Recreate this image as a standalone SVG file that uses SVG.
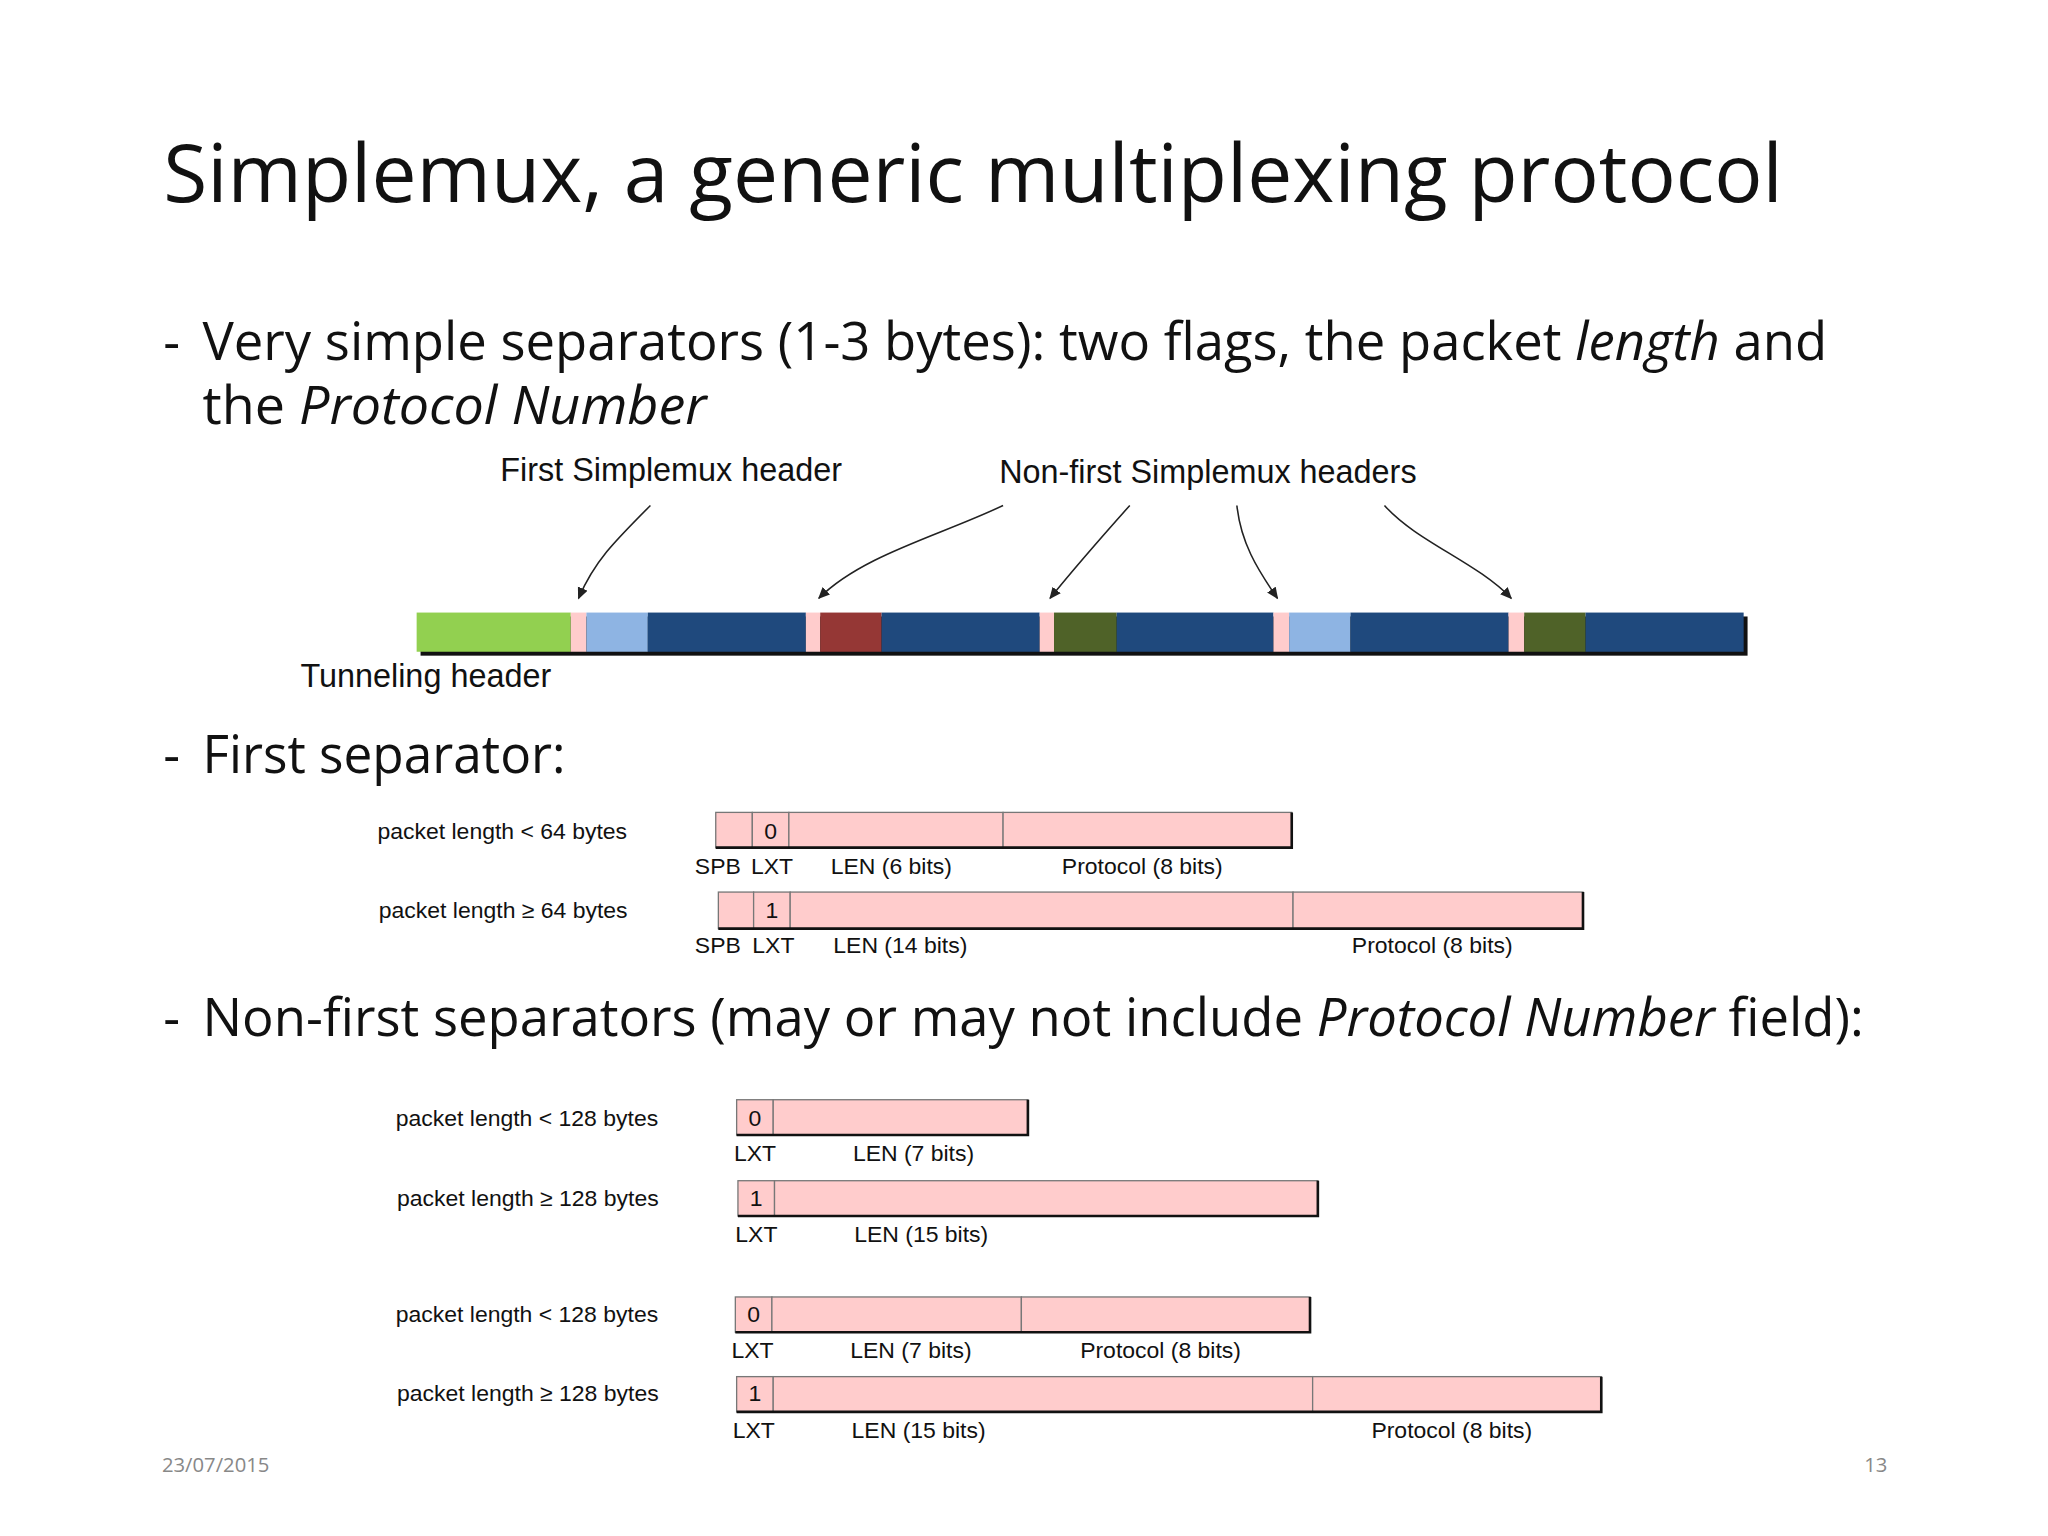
<svg xmlns="http://www.w3.org/2000/svg" width="2048" height="1536" viewBox="0 0 2048 1536">
<style>
.t{font-family:"Open Sans","Noto Sans",sans-serif;fill:#111}
.a{font-family:"Liberation Sans",Arial,sans-serif;fill:#111}
.l{font-size:24.8px}
.s{font-size:17.6px}
.c{fill:#ffcccc;stroke:#777;stroke-width:1}
.sh{stroke:#111;stroke-width:2;fill:none}
.con{fill:none;stroke:#222;stroke-width:1.2;marker-end:url(#ah)}
</style>
<defs>
<marker id="ah" markerWidth="10" markerHeight="10" refX="8" refY="4" orient="auto" markerUnits="userSpaceOnUse"><path d="M0,0 L9,4 L0,8 Z" fill="#222"/></marker>
</defs>
<rect width="2048" height="1536" fill="#fff"/>
<g transform="scale(1.3061)">
<g id="title"><text class="t" x="125" y="155" font-size="62" textLength="1240" lengthAdjust="spacingAndGlyphs">Simplemux, a generic multiplexing protocol</text></g>
<g id="bullets" font-size="40">
<text class="t" x="125" y="276" font-size="40">-</text>
<text class="t" x="155" y="276" font-size="40" textLength="1244" lengthAdjust="spacingAndGlyphs">Very simple separators (1-3 bytes): two flags, the packet <tspan font-style="italic">length</tspan> and</text>
<text class="t" x="155" y="325" font-size="40" textLength="386" lengthAdjust="spacingAndGlyphs">the <tspan font-style="italic">Protocol Number</tspan></text>
<text class="t" x="125" y="592" font-size="40">-</text>
<text class="t" x="155" y="592" font-size="40" textLength="278" lengthAdjust="spacingAndGlyphs">First separator:</text>
<text class="t" x="125" y="793" font-size="40">-</text>
<text class="t" x="155" y="793" font-size="40" textLength="1272" lengthAdjust="spacingAndGlyphs">Non-first separators (may or may not include <tspan font-style="italic">Protocol Number</tspan> field):</text>
</g>
<g id="labels">
<text class="a l" x="383" y="368">First Simplemux header</text>
<text class="a l" x="765" y="370">Non-first Simplemux headers</text>
<text class="a l" x="230" y="526">Tunneling header</text>
</g>
<g id="connectors">
<path class="con" d="M498,387 C470,415 455,430 443,458"/>
<path class="con" d="M768,387 C720,410 660,425 627,458"/>
<path class="con" d="M865,387 C840,415 825,432 804,458"/>
<path class="con" d="M947,387 C950,415 962,435 978,458"/>
<path class="con" d="M1060,387 C1085,415 1130,430 1157,458"/>
</g>
<g id="bar">
<rect x="322" y="472" width="1016" height="30" fill="#111"/>
<rect x="319" y="469" width="118" height="30" fill="#92d050"/>
<rect x="437" y="469" width="12" height="30" fill="#ffcccc"/>
<rect x="449" y="469" width="47" height="30" fill="#8eb4e3"/>
<rect x="496" y="469" width="121" height="30" fill="#1f497d"/>
<rect x="617" y="469" width="11" height="30" fill="#ffcccc"/>
<rect x="628" y="469" width="47" height="30" fill="#953735"/>
<rect x="675" y="469" width="121" height="30" fill="#1f497d"/>
<rect x="796" y="469" width="11" height="30" fill="#ffcccc"/>
<rect x="807" y="469" width="48" height="30" fill="#4f6228"/>
<rect x="855" y="469" width="120" height="30" fill="#1f497d"/>
<rect x="975" y="469" width="12" height="30" fill="#ffcccc"/>
<rect x="987" y="469" width="47" height="30" fill="#8eb4e3"/>
<rect x="1034" y="469" width="121" height="30" fill="#1f497d"/>
<rect x="1155" y="469" width="12" height="30" fill="#ffcccc"/>
<rect x="1167" y="469" width="47" height="30" fill="#4f6228"/>
<rect x="1214" y="469" width="121" height="30" fill="#1f497d"/>
</g>
<g id="row1">
<text class="a s" x="289" y="642">packet length &lt; 64 bytes</text>
<rect class="c" x="548" y="622" width="28" height="27"/><rect class="c" x="576" y="622" width="28" height="27"/><rect class="c" x="604" y="622" width="164" height="27"/><rect class="c" x="768" y="622" width="221" height="27"/>
<path class="sh" d="M989,622 V649 H548"/>
<text class="a s" x="590" y="642" text-anchor="middle">0</text>
<text class="a s" x="532" y="669">SPB</text><text class="a s" x="575" y="669">LXT</text><text class="a s" x="636" y="669">LEN (6 bits)</text><text class="a s" x="813" y="669">Protocol (8 bits)</text>
</g>
<g id="row2">
<text class="a s" x="290" y="703">packet length ≥ 64 bytes</text>
<rect class="c" x="550" y="683" width="27" height="28"/><rect class="c" x="577" y="683" width="28" height="28"/><rect class="c" x="605" y="683" width="385" height="28"/><rect class="c" x="990" y="683" width="222" height="28"/>
<path class="sh" d="M1212,683 V711 H550"/>
<text class="a s" x="591" y="703" text-anchor="middle">1</text>
<text class="a s" x="532" y="730">SPB</text><text class="a s" x="576" y="730">LXT</text><text class="a s" x="638" y="730">LEN (14 bits)</text><text class="a s" x="1035" y="730">Protocol (8 bits)</text>
</g>
<g id="row3">
<text class="a s" x="303" y="862">packet length &lt; 128 bytes</text>
<rect class="c" x="564" y="842" width="28" height="27"/><rect class="c" x="592" y="842" width="195" height="27"/>
<path class="sh" d="M787,842 V869 H564"/>
<text class="a s" x="578" y="862" text-anchor="middle">0</text>
<text class="a s" x="562" y="889">LXT</text><text class="a s" x="653" y="889">LEN (7 bits)</text>
</g>
<g id="row4">
<text class="a s" x="304" y="923">packet length ≥ 128 bytes</text>
<rect class="c" x="565" y="904" width="28" height="27"/><rect class="c" x="593" y="904" width="416" height="27"/>
<path class="sh" d="M1009,904 V931 H565"/>
<text class="a s" x="579" y="923" text-anchor="middle">1</text>
<text class="a s" x="563" y="951">LXT</text><text class="a s" x="654" y="951">LEN (15 bits)</text>
</g>
<g id="row5">
<text class="a s" x="303" y="1012">packet length &lt; 128 bytes</text>
<rect class="c" x="563" y="993" width="28" height="27"/><rect class="c" x="591" y="993" width="191" height="27"/><rect class="c" x="782" y="993" width="221" height="27"/>
<path class="sh" d="M1003,993 V1020 H563"/>
<text class="a s" x="577" y="1012" text-anchor="middle">0</text>
<text class="a s" x="560" y="1040">LXT</text><text class="a s" x="651" y="1040">LEN (7 bits)</text><text class="a s" x="827" y="1040">Protocol (8 bits)</text>
</g>
<g id="row6">
<text class="a s" x="304" y="1073">packet length ≥ 128 bytes</text>
<rect class="c" x="564" y="1054" width="28" height="27"/><rect class="c" x="592" y="1054" width="413" height="27"/><rect class="c" x="1005" y="1054" width="221" height="27"/>
<path class="sh" d="M1226,1054 V1081 H564"/>
<text class="a s" x="578" y="1073" text-anchor="middle">1</text>
<text class="a s" x="561" y="1101">LXT</text><text class="a s" x="652" y="1101">LEN (15 bits)</text><text class="a s" x="1050" y="1101">Protocol (8 bits)</text>
</g>
<g id="footer">
<text x="124" y="1127" font-family="Open Sans,sans-serif" font-size="15.5" fill="#888">23/07/2015</text>
<text x="1445" y="1127" font-family="Open Sans,sans-serif" font-size="15.5" fill="#888" text-anchor="end">13</text>
</g>
</g>
</svg>
